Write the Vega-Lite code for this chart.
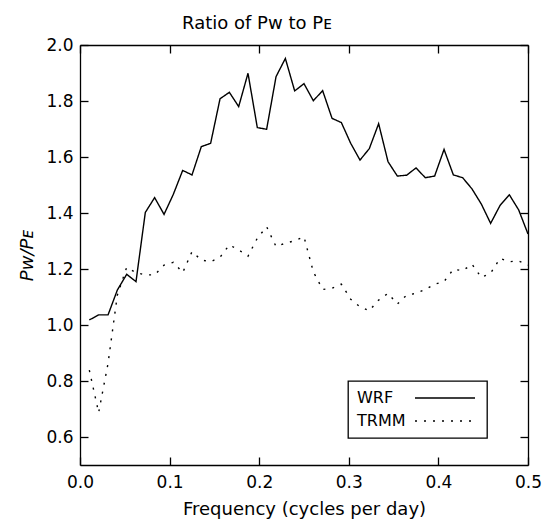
{
  "$schema": "https://vega.github.io/schema/vega-lite/v6.json",
  "width": 448,
  "height": 420,
  "autosize": "none",
  "padding": {"left": 80, "top": 45, "right": 19, "bottom": 55},
  "background": "white",
  "title": {
    "text": "Ratio of Pᴡ to Pᴇ",
    "font": "DejaVu Sans",
    "fontSize": 18,
    "fontWeight": "normal",
    "color": "black",
    "anchor": "middle",
    "dx": -47,
    "offset": 3
  },
  "data": {
    "values": [
      {"f": 0.0104, "s": "WRF", "r": 1.018}, {"f": 0.0208, "s": "WRF", "r": 1.036},
      {"f": 0.0313, "s": "WRF", "r": 1.036}, {"f": 0.0417, "s": "WRF", "r": 1.125},
      {"f": 0.0521, "s": "WRF", "r": 1.181}, {"f": 0.0625, "s": "WRF", "r": 1.155},
      {"f": 0.0729, "s": "WRF", "r": 1.402}, {"f": 0.0833, "s": "WRF", "r": 1.455},
      {"f": 0.0938, "s": "WRF", "r": 1.395}, {"f": 0.1042, "s": "WRF", "r": 1.467},
      {"f": 0.1146, "s": "WRF", "r": 1.552}, {"f": 0.125, "s": "WRF", "r": 1.536},
      {"f": 0.1354, "s": "WRF", "r": 1.637}, {"f": 0.1458, "s": "WRF", "r": 1.649},
      {"f": 0.1563, "s": "WRF", "r": 1.808}, {"f": 0.1667, "s": "WRF", "r": 1.831},
      {"f": 0.1771, "s": "WRF", "r": 1.780}, {"f": 0.1875, "s": "WRF", "r": 1.899},
      {"f": 0.1979, "s": "WRF", "r": 1.705}, {"f": 0.2083, "s": "WRF", "r": 1.699},
      {"f": 0.2188, "s": "WRF", "r": 1.887}, {"f": 0.2292, "s": "WRF", "r": 1.952},
      {"f": 0.2396, "s": "WRF", "r": 1.836}, {"f": 0.25, "s": "WRF", "r": 1.862},
      {"f": 0.2604, "s": "WRF", "r": 1.801}, {"f": 0.2708, "s": "WRF", "r": 1.837},
      {"f": 0.2813, "s": "WRF", "r": 1.738}, {"f": 0.2917, "s": "WRF", "r": 1.723},
      {"f": 0.3021, "s": "WRF", "r": 1.649}, {"f": 0.3125, "s": "WRF", "r": 1.589},
      {"f": 0.3229, "s": "WRF", "r": 1.630}, {"f": 0.3333, "s": "WRF", "r": 1.719},
      {"f": 0.3438, "s": "WRF", "r": 1.583}, {"f": 0.3542, "s": "WRF", "r": 1.532},
      {"f": 0.3646, "s": "WRF", "r": 1.535}, {"f": 0.375, "s": "WRF", "r": 1.561},
      {"f": 0.3854, "s": "WRF", "r": 1.526}, {"f": 0.3958, "s": "WRF", "r": 1.532},
      {"f": 0.4063, "s": "WRF", "r": 1.627}, {"f": 0.4167, "s": "WRF", "r": 1.536},
      {"f": 0.4271, "s": "WRF", "r": 1.526}, {"f": 0.4375, "s": "WRF", "r": 1.486},
      {"f": 0.4479, "s": "WRF", "r": 1.432}, {"f": 0.4583, "s": "WRF", "r": 1.363},
      {"f": 0.4688, "s": "WRF", "r": 1.427}, {"f": 0.4792, "s": "WRF", "r": 1.465},
      {"f": 0.4896, "s": "WRF", "r": 1.411}, {"f": 0.5, "s": "WRF", "r": 1.325},
      {"f": 0.0104, "s": "TRMM", "r": 0.839}, {"f": 0.0208, "s": "TRMM", "r": 0.687},
      {"f": 0.0313, "s": "TRMM", "r": 0.863}, {"f": 0.0417, "s": "TRMM", "r": 1.107},
      {"f": 0.0521, "s": "TRMM", "r": 1.206}, {"f": 0.0625, "s": "TRMM", "r": 1.187},
      {"f": 0.0729, "s": "TRMM", "r": 1.179}, {"f": 0.0833, "s": "TRMM", "r": 1.179},
      {"f": 0.0938, "s": "TRMM", "r": 1.214}, {"f": 0.1042, "s": "TRMM", "r": 1.224},
      {"f": 0.1146, "s": "TRMM", "r": 1.187}, {"f": 0.125, "s": "TRMM", "r": 1.262},
      {"f": 0.1354, "s": "TRMM", "r": 1.232}, {"f": 0.1458, "s": "TRMM", "r": 1.226},
      {"f": 0.1563, "s": "TRMM", "r": 1.242}, {"f": 0.1667, "s": "TRMM", "r": 1.286},
      {"f": 0.1771, "s": "TRMM", "r": 1.268}, {"f": 0.1875, "s": "TRMM", "r": 1.246},
      {"f": 0.1979, "s": "TRMM", "r": 1.310}, {"f": 0.2083, "s": "TRMM", "r": 1.351},
      {"f": 0.2188, "s": "TRMM", "r": 1.280}, {"f": 0.2292, "s": "TRMM", "r": 1.292},
      {"f": 0.2396, "s": "TRMM", "r": 1.301}, {"f": 0.25, "s": "TRMM", "r": 1.315},
      {"f": 0.2604, "s": "TRMM", "r": 1.190}, {"f": 0.2708, "s": "TRMM", "r": 1.127},
      {"f": 0.2813, "s": "TRMM", "r": 1.131}, {"f": 0.2917, "s": "TRMM", "r": 1.146},
      {"f": 0.3021, "s": "TRMM", "r": 1.092}, {"f": 0.3125, "s": "TRMM", "r": 1.065},
      {"f": 0.3229, "s": "TRMM", "r": 1.051}, {"f": 0.3333, "s": "TRMM", "r": 1.089},
      {"f": 0.3438, "s": "TRMM", "r": 1.113}, {"f": 0.3542, "s": "TRMM", "r": 1.075},
      {"f": 0.3646, "s": "TRMM", "r": 1.107}, {"f": 0.375, "s": "TRMM", "r": 1.113},
      {"f": 0.3854, "s": "TRMM", "r": 1.127}, {"f": 0.3958, "s": "TRMM", "r": 1.146},
      {"f": 0.4063, "s": "TRMM", "r": 1.155}, {"f": 0.4167, "s": "TRMM", "r": 1.199},
      {"f": 0.4271, "s": "TRMM", "r": 1.194}, {"f": 0.4375, "s": "TRMM", "r": 1.217},
      {"f": 0.4479, "s": "TRMM", "r": 1.170}, {"f": 0.4583, "s": "TRMM", "r": 1.185},
      {"f": 0.4688, "s": "TRMM", "r": 1.238}, {"f": 0.4792, "s": "TRMM", "r": 1.226},
      {"f": 0.4896, "s": "TRMM", "r": 1.229}, {"f": 0.5, "s": "TRMM", "r": 1.214}
    ]
  },
  "layer": [
    {
      "mark": {"type": "line", "color": "black", "strokeWidth": 1.4},
      "encoding": {
        "x": {
          "field": "f", "type": "quantitative",
          "scale": {"domain": [0, 0.5], "nice": false, "zero": false},
          "axis": {
            "orient": "bottom",
            "values": [0, 0.1, 0.2, 0.3, 0.4, 0.5],
            "format": ".1f",
            "labelPadding": 17,
            "title": "Frequency (cycles per day)",
            "titlePadding": 10
          }
        },
        "y": {
          "field": "r", "type": "quantitative",
          "scale": {"domain": [0.5, 2.0], "nice": false, "zero": false},
          "axis": {
            "orient": "left",
            "values": [0.6, 0.8, 1.0, 1.2, 1.4, 1.6, 1.8, 2.0],
            "format": ".1f",
            "labelPadding": 15,
            "title": "Pᴡ/Pᴇ",
            "titleFontStyle": "italic",
            "titlePadding": 9
          }
        },
        "strokeDash": {
          "field": "s", "type": "nominal",
          "scale": {"domain": ["WRF", "TRMM"], "range": [[1, 0], [2, 7]]},
          "legend": {
            "orient": "none",
            "legendX": 268,
            "legendY": 336,
            "title": null,
            "strokeColor": "black",
            "padding": 9,
            "labelFont": "DejaVu Sans",
            "labelFontSize": 16,
            "labelColor": "black",
            "labelOffset": -16,
            "symbolOffset": 0,
            "symbolType": "M10,0H22",
            "symbolSize": 100,
            "symbolStrokeColor": "black",
            "symbolStrokeWidth": 1.4,
            "rowPadding": 7,
            "encode": {"legend": {"update": {"strokeWidth": {"value": 1.3}}}}
          }
        }
      }
    },
    {
      "mark": {"type": "line", "strokeOpacity": 0},
      "encoding": {
        "x": {
          "field": "f", "type": "quantitative",
          "scale": {"domain": [0, 0.5], "nice": false, "zero": false},
          "axis": {"orient": "top", "values": [0, 0.1, 0.2, 0.3, 0.4, 0.5], "labels": false, "title": null}
        },
        "y": {
          "field": "r", "type": "quantitative",
          "scale": {"domain": [0.5, 2.0], "nice": false, "zero": false},
          "axis": {"orient": "right", "values": [0.6, 0.8, 1.0, 1.2, 1.4, 1.6, 1.8, 2.0], "labels": false, "title": null}
        },
        "detail": {"field": "s", "type": "nominal"}
      }
    }
  ],
  "resolve": {"axis": {"x": "independent", "y": "independent"}},
  "config": {
    "view": {"stroke": null},
    "axis": {
      "grid": false,
      "domainColor": "black",
      "domainWidth": 1.3,
      "tickColor": "black",
      "tickWidth": 1.3,
      "tickSize": -8,
      "labelFlush": false,
      "labelOverlap": false,
      "labelFont": "DejaVu Sans",
      "labelFontSize": 17,
      "labelColor": "black",
      "titleFont": "DejaVu Sans",
      "titleFontSize": 18,
      "titleFontWeight": "normal",
      "titleColor": "black"
    }
  }
}
